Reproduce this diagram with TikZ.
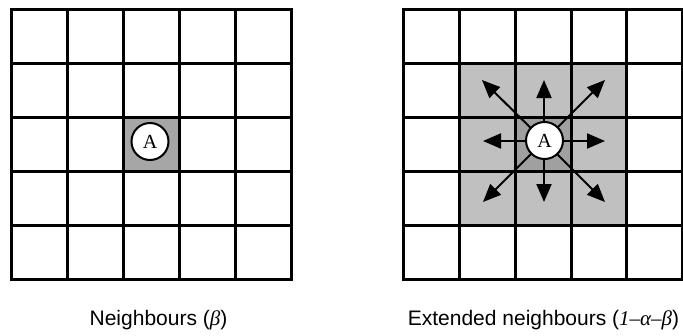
\documentclass[tikz,border=0pt]{standalone}
\usepackage{fontspec}
\setmainfont{Liberation Sans}
\newfontfamily\lblserif{Liberation Serif}
\usetikzlibrary{arrows.meta}
\definecolor{cellmid}{HTML}{A6A6A6}
\definecolor{celllight}{HTML}{C0C0C0}
\definecolor{celldark}{HTML}{A0A0A0}
\begin{document}
\begin{tikzpicture}[x=1pt,y=-1pt,
  gridline/.style={line width=3pt,line cap=rect},
  agent/.style={circle,draw,line width=2pt,fill=white,minimum size=37pt,inner sep=0pt,
    font=\lblserif\fontsize{20}{20}\selectfont},
  move/.style={line width=2pt,-{Triangle[length=18pt 0 0,width=15pt 0 0]}},
  caption/.style={font=\fontsize{21}{24}\selectfont,anchor=base,inner sep=0pt}]
\useasboundingbox (0,0) rectangle (683,335);
% ---------- left grid ----------
\fill[cellmid] (123.6,117.4) rectangle (179.6,171.4);
\foreach \i in {0,...,5}{
  \draw[gridline] ({11.5+56.04*\i},9.5) -- ({11.5+56.04*\i},279.3);
  \draw[gridline] (11.5,{9.5+53.96*\i}) -- (291.7,{9.5+53.96*\i});
}
\node[agent] (a1) at (150,141.5) {A};
\node[caption] (l1) at (158.5,325) {Neighbours ({\lblserif\itshape β})};
% ---------- right grid ----------
\fill[celllight] (459.5,63.5) rectangle (627.0,225.3);
\fill[celldark] (515.3,117.4) rectangle (571.2,171.4);
\foreach \i in {0,...,5}{
  \draw[gridline] ({403.8+55.74*\i},9.5) -- ({403.8+55.74*\i},279.3);
  \draw[gridline] (403.8,{9.5+53.96*\i}) -- (682.5,{9.5+53.96*\i});
}
\coordinate (c) at (544,141);
\coordinate (tn) at (544,80);
\coordinate (ts) at (544,202);
\coordinate (tw) at (483,141);
\coordinate (te) at (605,141);
\coordinate (tnw) at (482,80);
\coordinate (tne) at (605,80);
\coordinate (tsw) at (483,202);
\coordinate (tse) at (605,202);
\foreach \t in {tn,ts,tw,te,tnw,tne,tsw,tse}{
  \draw[move] (c) -- (\t);
}
\node[agent] (a2) at (544.5,140.5) {A};
\node[caption] (l2) at (543.5,325) {Extended neighbours ({\lblserif\itshape 1–α–β})};
\end{tikzpicture}
\end{document}
